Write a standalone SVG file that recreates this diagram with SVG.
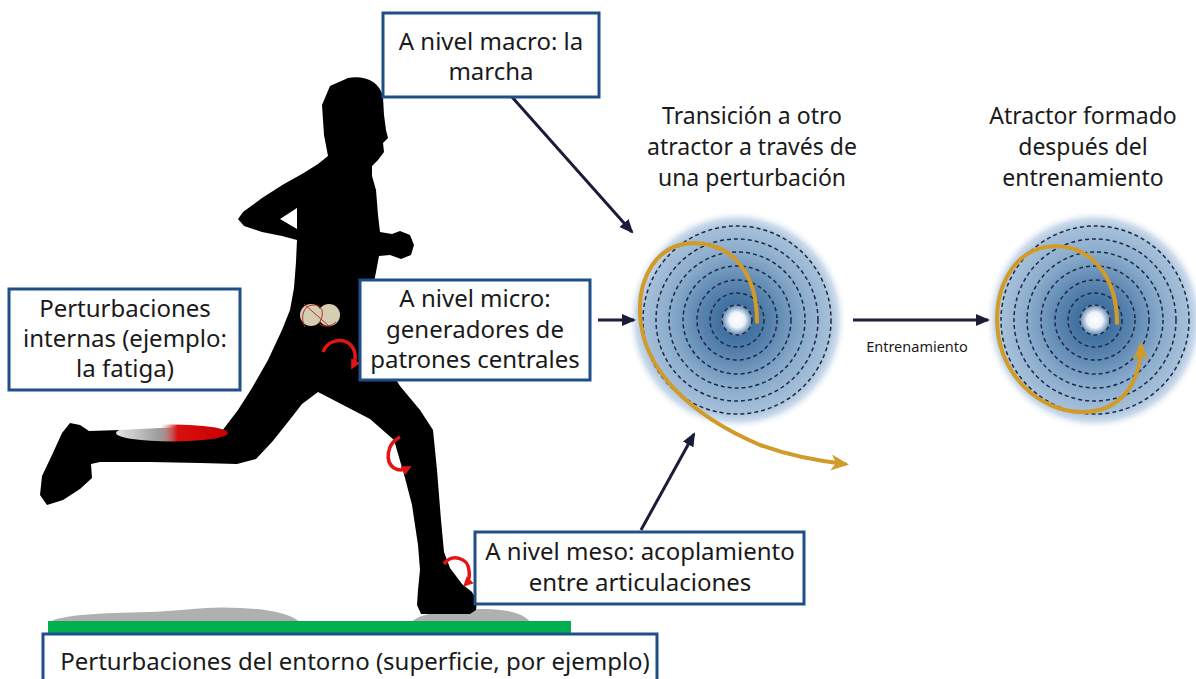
<svg xmlns="http://www.w3.org/2000/svg" width="1196" height="679" viewBox="0 0 1196 679">
  <defs>
    <style>
      .box { fill: #ffffff; stroke: #1f4e89; stroke-width: 3; }
      .lbl { font-family: "Noto Sans", "Open Sans", sans-serif; font-size: 23px; fill: #1a1a1a; text-anchor: middle; }
      .boxlbl { font-size: 24px; }
      .small { font-family: "Noto Sans", "Open Sans", sans-serif; font-size: 14.5px; fill: #1a1a1a; text-anchor: middle; }
      .conn { stroke: #1b1b3a; stroke-width: 3; fill: none; marker-end: url(#navyHead); }
      .ring { fill: none; stroke: #1c2a48; stroke-width: 1.5; stroke-dasharray: 4 3; }
      .gold { fill: none; stroke: #d19b2a; stroke-width: 4; stroke-linecap: round; marker-end: url(#goldHead); }
      .joint { fill: none; stroke: #e31414; stroke-width: 3.5; marker-end: url(#redHead); }
      .shadow { fill: #b0b0b0; }
    </style>
    <marker id="navyHead" markerUnits="userSpaceOnUse" markerWidth="14" markerHeight="12" refX="12" refY="6" orient="auto">
      <path d="M0,0 L14,6 L0,12 z" fill="#1b1b3a"/>
    </marker>
    <marker id="goldHead" markerUnits="userSpaceOnUse" markerWidth="18" markerHeight="16" refX="14" refY="8" orient="auto">
      <path d="M0,0 L18,8 L0,16 L5,8 z" fill="#d19b2a"/>
    </marker>
    <marker id="redHead" markerUnits="userSpaceOnUse" markerWidth="10" markerHeight="10" refX="6" refY="5" orient="auto">
      <path d="M0,0 L10,5 L0,10 z" fill="#e31414"/>
    </marker>
    <radialGradient id="basin" cx="0.5" cy="0.5" r="0.5">
      <stop offset="0" stop-color="#ffffff"/>
      <stop offset="0.07" stop-color="#eef4fa"/>
      <stop offset="0.15" stop-color="#40709f"/>
      <stop offset="0.32" stop-color="#5883ae"/>
      <stop offset="0.6" stop-color="#88aacb"/>
      <stop offset="0.84" stop-color="#a5bfd9"/>
      <stop offset="0.92" stop-color="#cddcec"/>
      <stop offset="1" stop-color="#ffffff" stop-opacity="0"/>
    </radialGradient>
    <linearGradient id="fatigue" x1="0" y1="0" x2="1" y2="0">
      <stop offset="0" stop-color="#ffffff" stop-opacity="0.9"/>
      <stop offset="0.4" stop-color="#ffffff" stop-opacity="0.6"/>
      <stop offset="0.55" stop-color="#d81010"/>
      <stop offset="1" stop-color="#c80000"/>
    </linearGradient>
  </defs>

  <!-- ground: surface shadows and track -->
  <g id="ground">
    <path class="shadow" d="M50 622 C60 615 100 613 150 612 C190 610 210 606 240 608 C270 609 290 614 300 622 Z"/>
    <path class="shadow" d="M412 622 C420 612 450 611 480 609 C505 608 525 614 530 622 Z"/>
    <rect x="48" y="621" width="523" height="13" fill="#00b050"/>
  </g>

  <!-- runner silhouette -->
  <g id="runner">
    <path fill="#000000" fill-rule="evenodd" d="
      M348 78 C365 75 380 82 383 97 L384 115 L386 130 L388 138 L383 143 L384 152 L378 160 L372 166
      L372 176 L376 190 L378 215 L380 232
      L392 234 L400 231 L410 235 L414 245 L411 255 L401 259 L390 255 L379 256
      L376 272 L372 292 L366 310 L362 322
      L372 342 L386 364 L400 386 L420 410 L433 430 L437 470 L441 520 L444 552 L450 568
      L462 584 L472 592 L477 601 L476 610 L470 614 L421 614 L417 605 L418 590 L420 570
      L418 545 L412 505 L405 478 L394 440 L370 419 L345 406 L318 392
      L302 404 L288 422 L272 442 L256 459 L237 464
      L200 463 L150 462 L100 462 L91 464
      L92 478 L80 489 L63 500 L47 505 L40 495 L42 476 L52 455 L62 433 L70 423 L80 425 L89 431
      L120 430 L180 427 L222 431
      L238 410 L252 388 L268 360 L282 330
      L290 310 L294 288 L296 262 L297 240
      L282 236 L262 232 L244 226 L238 219 L243 212 L262 198 L284 184 L302 174
      L318 164 L328 156 L324 135 L322 105 L330 86 Z
      M297 208 L280 219 L297 229 Z"/>
    <!-- fatigued calf muscle -->
    <ellipse cx="172" cy="433" rx="56" ry="8.5" fill="url(#fatigue)"/>
    <!-- spinal cord cross-section -->
    <g id="spinal">
      <ellipse cx="311" cy="315" rx="11" ry="11" fill="#d6ceb0"/>
      <ellipse cx="329" cy="315" rx="11" ry="11" fill="#d6ceb0"/>
      <path d="M304 304 L330 327 M305 327 C300 318 303 306 312 305 C322 304 325 312 320 322 C318 327 330 328 336 322" fill="none" stroke="#b03030" stroke-width="1"/>
    </g>
    <!-- joint rotation arcs -->
    <path class="joint" d="M323 352 C328 338 348 336 354 350 C356 356 355 362 353 366"/>
    <path class="joint" d="M400 437 C386 444 385 462 394 468 C399 471 404 470 408 468"/>
    <path class="joint" d="M444 564 C452 553 468 558 469 570 C470 577 468 582 466 584"/>
  </g>

  <!-- attractor before training -->
  <g id="attractor-transition">
    <circle cx="737" cy="320" r="110" fill="url(#basin)"/>
    <circle class="ring" cx="737" cy="320" r="15"/>
    <circle class="ring" cx="737" cy="320" r="27"/>
    <circle class="ring" cx="737" cy="320" r="40"/>
    <circle class="ring" cx="737" cy="320" r="54"/>
    <circle class="ring" cx="737" cy="320" r="68"/>
    <circle class="ring" cx="737" cy="320" r="81"/>
    <circle class="ring" cx="737" cy="320" r="94"/>
    <path class="gold" d="M757 322 C757 275 735 245 695 243 C655 243 638 280 640 315 C643 370 690 415 760 445 C790 456 818 461 845 464"/>
    <text class="lbl" x="752" y="124">Transición a otro</text>
    <text class="lbl" x="752" y="155">atractor a través de</text>
    <text class="lbl" x="752" y="186">una perturbación</text>
  </g>

  <!-- attractor after training -->
  <g id="attractor-trained">
    <circle cx="1095" cy="320" r="110" fill="url(#basin)"/>
    <circle class="ring" cx="1095" cy="320" r="15"/>
    <circle class="ring" cx="1095" cy="320" r="27"/>
    <circle class="ring" cx="1095" cy="320" r="40"/>
    <circle class="ring" cx="1095" cy="320" r="54"/>
    <circle class="ring" cx="1095" cy="320" r="68"/>
    <circle class="ring" cx="1095" cy="320" r="81"/>
    <circle class="ring" cx="1095" cy="320" r="94"/>
    <path class="gold" d="M1117 323 C1117 280 1095 248 1057 246 C1015 246 997 285 997 320 C998 375 1040 412 1082 412 C1120 412 1140 385 1141 346"/>
    <text class="lbl" x="1083" y="124">Atractor formado</text>
    <text class="lbl" x="1083" y="155">después del</text>
    <text class="lbl" x="1083" y="186">entrenamiento</text>
  </g>

  <!-- connectors -->
  <g id="connectors">
    <path class="conn" d="M512 97 L632 232"/>
    <path class="conn" d="M598 320 L634 320"/>
    <path class="conn" d="M641 530 L694 434"/>
    <path class="conn" d="M853 320 L988 320"/>
    <text class="small" x="917" y="352">Entrenamiento</text>
  </g>

  <!-- label boxes -->
  <g id="macro">
    <rect class="box" x="383" y="13" width="216" height="84"/>
    <text class="lbl boxlbl" x="491" y="50">A nivel macro: la</text>
    <text class="lbl boxlbl" x="491" y="80">marcha</text>
  </g>
  <g id="internal">
    <rect class="box" x="9" y="289" width="231" height="101"/>
    <text class="lbl boxlbl" x="125" y="317">Perturbaciones</text>
    <text class="lbl boxlbl" x="125" y="347">internas (ejemplo:</text>
    <text class="lbl boxlbl" x="125" y="377">la fatiga)</text>
  </g>
  <g id="micro">
    <rect class="box" x="360" y="280" width="230" height="100"/>
    <text class="lbl boxlbl" x="475" y="307">A nivel micro:</text>
    <text class="lbl boxlbl" x="475" y="338">generadores de</text>
    <text class="lbl boxlbl" x="475" y="368">patrones centrales</text>
  </g>
  <g id="meso">
    <rect class="box" x="475" y="532" width="329" height="72"/>
    <text class="lbl boxlbl" x="640" y="560">A nivel meso: acoplamiento</text>
    <text class="lbl boxlbl" x="640" y="591">entre articulaciones</text>
  </g>
  <g id="environment">
    <rect class="box" x="43" y="634" width="614" height="60"/>
    <text class="lbl boxlbl" x="355" y="670">Perturbaciones del entorno (superficie, por ejemplo)</text>
  </g>
</svg>
